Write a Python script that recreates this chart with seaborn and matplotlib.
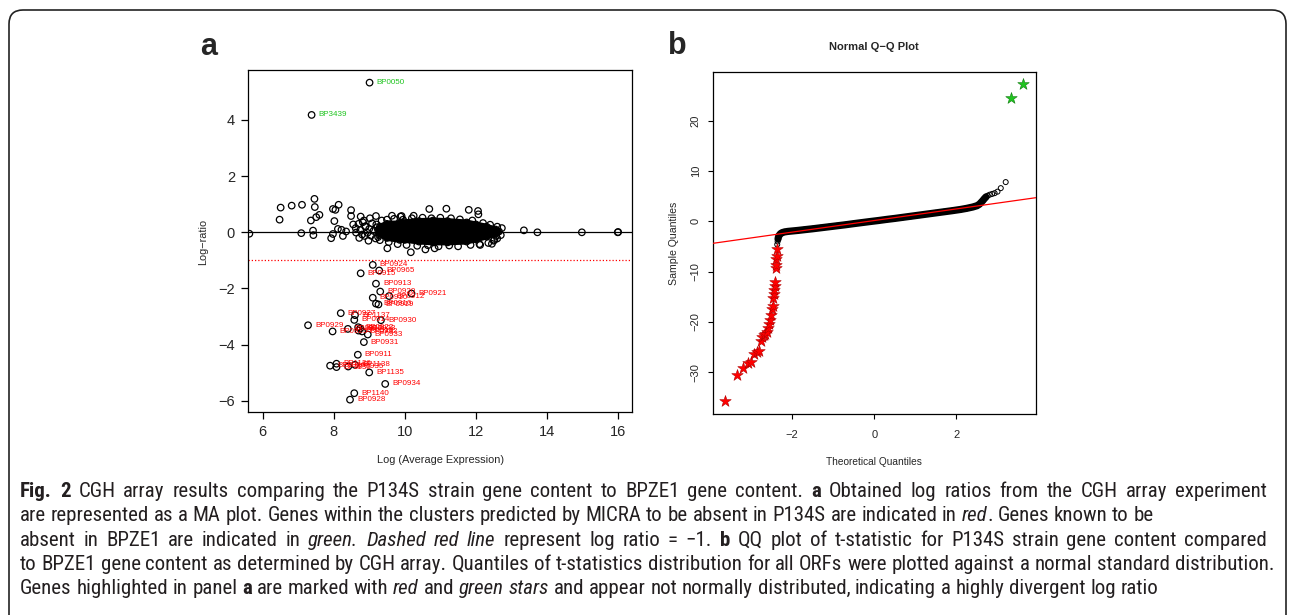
import re
import matplotlib
matplotlib.use("Agg")
import matplotlib.pyplot as plt
import numpy as np
import seaborn as sns
from matplotlib import font_manager as fm
from matplotlib.font_manager import FontProperties
from matplotlib.patches import FancyBboxPatch, Polygon
from matplotlib.transforms import IdentityTransform

# ---------------- data: panel a (MA plot) ----------------
# dense core of the cloud, outline of point centres
core_x = [9.25, 9.30, 9.50, 9.86, 10.0, 10.4, 10.8, 11.2, 11.74, 12.0, 12.3, 12.55, 12.65,
          12.55, 12.3, 12.0, 11.74, 11.2, 10.8, 10.4, 10.0, 9.86, 9.50, 9.30]
core_y = [0.08, 0.20, 0.30, 0.32, 0.36, 0.40, 0.42, 0.40, 0.35, 0.28, 0.20, 0.10, 0.03,
          -0.05, -0.15, -0.25, -0.33, -0.36, -0.36, -0.33, -0.27, -0.27, -0.20, -0.05]

# single genes around the core and the scattered ones
ma_x = [5.63, 6.51, 6.48, 6.82, 7.11, 7.09, 7.46, 7.47, 7.36, 7.51, 7.60, 7.42, 7.43,
        7.98, 8.05, 8.14, 8.02, 7.93, 7.98, 8.12, 8.22, 8.35, 8.26, 8.49, 8.49, 8.63,
        8.76, 8.82, 8.89, 8.87, 9.02, 9.19, 9.25, 9.51, 9.64, 9.88,
        10.69, 11.17, 11.80, 12.06, 12.07, 9.91, 10.25, 10.17, 10.58, 10.84,
        12.12, 12.45, 12.52, 12.57, 12.73, 13.35, 13.73, 14.98, 15.99, 16.0,
        9.20, 9.35, 9.50, 9.70, 9.95, 10.2, 10.5, 10.75, 11.0, 11.3, 11.55, 11.9,
        12.2, 12.4, 12.6, 9.30, 9.55, 9.80, 10.05, 10.35, 10.65, 10.95, 11.25, 11.5,
        11.85, 12.1, 12.35, 12.5, 12.6, 12.7,
        8.55, 8.62, 8.70, 8.75, 8.80, 8.85, 8.90, 8.95, 9.00, 9.05, 9.08, 9.12, 9.18,
        9.22, 9.28, 8.72, 8.98]
ma_y = [-0.05, 0.88, 0.45, 0.95, 0.98, -0.03, 1.19, 0.90, 0.42, 0.54, 0.62, 0.06, -0.10,
        0.83, 0.80, 0.98, 0.40, -0.21, -0.06, 0.12, 0.09, 0.03, -0.13, 0.79, 0.58, -0.01,
        0.56, 0.36, 0.20, -0.13, 0.50, 0.58, -0.17, -0.57, 0.59, 0.56,
        0.83, 0.84, 0.80, 0.76, 0.64, 0.58, 0.59, -0.71, -0.61, -0.57,
        -0.45, -0.41, -0.27, -0.13, 0.15, 0.07, 0.00, 0.00, 0.00, 0.01,
        0.28, 0.42, 0.45, 0.48, 0.45, 0.50, 0.52, 0.50, 0.52, 0.50, 0.46, 0.42,
        0.33, 0.27, 0.20, -0.28, -0.35, -0.42, -0.45, -0.48, -0.46, -0.50, -0.47, -0.50,
        -0.45, -0.42, -0.38, -0.30, -0.22, -0.10,
        0.28, 0.15, 0.30, 0.08, -0.08, 0.42, 0.22, -0.02, 0.12, -0.12, 0.32, 0.05, -0.22,
        0.18, -0.10, -0.20, -0.30]

# genes predicted absent in P134S (red labels)
red_genes = ["BP0924", "BP0965", "BP0915", "BP0913", "BP0920", "BP0921", "BP0912", "BP0910",
             "BP0916", "BP0919", "BP0927", "BP1137", "BP0914", "BP0930", "BP0929", "BP0925",
             "BP0917", "BP0922", "BP0923", "BP0918", "BP0932", "BP0933", "BP0931", "BP0911",
             "BP0926", "BP1136", "BP1139", "BP0935", "BP1138", "BP1135", "BP0934", "BP1140",
             "BP0928"]
red_x = [9.10, 9.28, 8.76, 9.19, 9.31, 10.19, 9.56, 9.10, 9.19, 9.26, 8.20, 8.60, 8.58, 9.33,
         7.28, 7.97, 8.40, 8.69, 8.75, 8.70, 8.80, 8.96, 8.85, 8.68, 7.90, 8.08, 8.08, 8.41,
         8.60, 9.00, 9.45, 8.58, 8.46]
red_y = [-1.16, -1.36, -1.46, -1.83, -2.11, -2.18, -2.27, -2.33, -2.54, -2.57, -2.88, -2.95,
         -3.12, -3.13, -3.31, -3.53, -3.44, -3.38, -3.42, -3.50, -3.53, -3.64, -3.91, -4.36,
         -4.75, -4.68, -4.80, -4.78, -4.72, -4.99, -5.40, -5.73, -5.96]

# genes known to be absent in BPZE1 (green labels)
green_genes = ["BP0050", "BP3439"]
green_x = [9.01, 7.38]
green_y = [5.33, 4.18]

ma_xticks = [6, 8, 10, 12, 14, 16]
ma_yticks = [-6, -4, -2, 0, 2, 4]
cutoff = -1

# ---------------- data: panel b (normal Q-Q plot) ----------------
qq_x = [-2.36, -2.35, -2.34, -2.33, -2.31, -2.28, -2.24, -2.18, -2.10, -2.00, -1.85, -1.70,
        -1.50, -1.30, -1.10, -0.90, -0.70, -0.50, -0.30, -0.10, 0.10, 0.30, 0.50, 0.70,
        0.90, 1.10, 1.30, 1.50, 1.70, 1.90, 2.10, 2.25, 2.40, 2.50, 2.56, 2.60, 2.64, 2.68,
        2.72, 2.76, 2.81, 2.87, 2.93, 3.00, 3.08, 3.20]
qq_y = [-4.6, -4.0, -3.5, -3.1, -2.75, -2.45, -2.25, -2.10, -2.00, -1.92, -1.80, -1.66,
        -1.48, -1.28, -1.08, -0.88, -0.68, -0.46, -0.25, -0.04, 0.16, 0.38, 0.58, 0.80,
        1.02, 1.24, 1.46, 1.68, 1.90, 2.12, 2.36, 2.58, 2.85, 3.10, 3.40, 3.75, 4.10, 4.50,
        4.85, 5.10, 5.30, 5.45, 5.60, 5.90, 6.60, 7.80]
qq_red_x = [-3.63, -3.34, -3.19, -3.08, -2.99, -2.92, -2.86, -2.81, -2.76, -2.72, -2.68,
            -2.65, -2.62, -2.59, -2.56, -2.53, -2.51, -2.49, -2.47, -2.46, -2.44, -2.43,
            -2.42, -2.41, -2.40, -2.39, -2.38, -2.37, -2.36]
qq_red_y = [-35.7, -30.6, -29.2, -28.2, -28.0, -26.3, -26.0, -25.8, -23.8, -23.0, -22.6,
            -22.3, -22.0, -21.2, -20.4, -19.6, -18.6, -17.4, -16.8, -15.2, -14.4, -13.6,
            -12.8, -12.0, -9.2, -8.6, -7.4, -6.8, -5.5]
qq_green_x = [3.34, 3.63]
qq_green_y = [24.5, 27.2]
qq_intercept = 0.16
qq_slope = 1.154
qq_xticks = [-2, 0, 2]
qq_yticks = [-30, -20, -10, 0, 10, 20]

caption_lines = [
    [("Fig. 2", "b"), (" CGH array results comparing the P134S strain gene content to BPZE1 gene content. ", "n"),
     ("a", "b"), (" Obtained log ratios from the CGH array experiment", "n")],
    [("are represented as a MA plot. Genes within the clusters predicted by MICRA to be absent in P134S are indicated in ", "n"),
     ("red", "i"), (". Genes known to be", "n")],
    [("absent in BPZE1 are indicated in ", "n"), ("green. Dashed red line", "i"),
     (" represent log ratio = \u22121. ", "n"), ("b", "b"),
     (" QQ plot of t-statistic for P134S strain gene content compared", "n")],
    [("to BPZE1 gene content as determined by CGH array. Quantiles of t-statistics distribution for all ORFs were plotted against a normal standard distribution.", "n")],
    [("Genes highlighted in panel ", "n"), ("a", "b"), (" are marked with ", "n"), ("red", "i"),
     (" and ", "n"), ("green stars", "i"),
     (" and appear not normally distributed, indicating a highly divergent log ratio", "n")],
]
caption_justify = [True, False, True, False, False]

# ---------------- fonts ----------------
sns.set_theme(style="ticks")
names = {f.name for f in fm.fontManager.ttflist}
plot_font = "Liberation Sans" if "Liberation Sans" in names else "DejaVu Sans"
cap_font = next((f for f in ["Liberation Sans Narrow", "Roboto Condensed", "Open Sans Condensed"]
                 if f in names), plot_font)
plt.rcParams["font.family"] = [plot_font, "DejaVu Sans"]
plt.rcParams["axes.unicode_minus"] = True

W, H = 1290, 615
fig = plt.figure(figsize=(W / 100, H / 100), dpi=100)
fig.patch.set_facecolor("white")


def px_axes(l, t, r, b):
    return fig.add_axes([l / W, 1 - b / H, (r - l) / W, (b - t) / H])


axA = px_axes(248.3, 70, 632, 412.3)
axB = px_axes(712.7, 71.7, 1035.7, 414.3)
for ax in (axA, axB):
    ax.set_facecolor("white")
    ax.grid(False)
    for sp in ax.spines.values():
        sp.set_visible(True)
        sp.set_color("black")
        sp.set_linewidth(0.9)

# ---------------- panel a ----------------
hollow = dict(marker="o", facecolor="none", edgecolor="black", legend=False)
axA.add_patch(Polygon(np.column_stack([core_x, core_y]), closed=True, fc="black",
                      ec="black", lw=4.3, joinstyle="round", zorder=2))
sns.scatterplot(x=core_x, y=core_y, s=22, linewidth=0.9, ax=axA, zorder=3, **hollow)
sns.scatterplot(x=ma_x, y=ma_y, s=22, linewidth=0.9, ax=axA, zorder=3, **hollow)
sns.scatterplot(x=red_x, y=red_y, s=22, linewidth=0.9, ax=axA, zorder=3, **hollow)
sns.scatterplot(x=green_x, y=green_y, s=22, linewidth=0.9, ax=axA, zorder=3, **hollow)
axA.axhline(0, color="black", lw=0.9, zorder=2.5)
axA.axhline(cutoff, color="red", lw=0.9, ls=(0, (1, 1.6)), zorder=2.5)
for gx, gy, g in zip(red_x, red_y, red_genes):
    axA.annotate(g, (gx, gy), xytext=(5, 0), textcoords="offset points", fontsize=5.8,
                 color="red", ha="left", va="center", zorder=4)
for gx, gy, g in zip(green_x, green_y, green_genes):
    axA.annotate(g, (gx, gy), xytext=(5, 0), textcoords="offset points", fontsize=5.8,
                 color="#1ec41e", ha="left", va="center", zorder=4)

axA.set_xlim(5.6, 16.39)
axA.set_ylim(-6.41, 5.78)
axA.set_xticks(ma_xticks)
axA.set_yticks(ma_yticks)
axA.tick_params(direction="out", length=5, width=0.9, labelsize=10.5, color="black",
                top=False, right=False)
axA.tick_params(axis="x", pad=4.5)
axA.tick_params(axis="y", pad=4.5)
axA.set_xlabel("Log (Average Expression)", fontsize=7.9, va="baseline")
axA.xaxis.set_label_coords(0.5, (412.3 - 463) / 342.3)
axA.set_ylabel("Log\u2212ratio", fontsize=7.8, va="center")
axA.yaxis.set_label_coords((202.8 - 248.3) / 383.7, 0.498)

# ---------------- panel b ----------------
sns.lineplot(x=qq_x[2:39], y=qq_y[2:39], color="black", lw=5.2, sort=False,
             estimator=None, ax=axB, zorder=2)
sns.scatterplot(x=qq_x, y=qq_y, s=13, linewidth=0.7, ax=axB, zorder=3, **hollow)
sns.scatterplot(x=qq_red_x, y=qq_red_y, marker="*", s=75, color="red",
                edgecolor="#b00000", linewidth=0.4, ax=axB, zorder=4, legend=False)
sns.scatterplot(x=qq_green_x, y=qq_green_y, marker="*", s=75, color="#1fc41f",
                edgecolor="#0d7a0d", linewidth=0.4, ax=axB, zorder=4, legend=False)
axB.axline((0, qq_intercept), slope=qq_slope, color="red", lw=0.9, zorder=3.5)

axB.set_xlim(-3.93, 3.93)
axB.set_ylim(-38.35, 29.74)
axB.set_xticks(qq_xticks)
axB.set_yticks(qq_yticks)
axB.tick_params(direction="out", length=3.6, width=0.8, labelsize=8.0, color="black",
                top=False, right=False)
axB.tick_params(axis="x", pad=7.5)
axB.tick_params(axis="y", pad=5.0, labelrotation=90)
for lab in axB.get_yticklabels():
    lab.set_va("center")
    lab.set_ha("right")
axB.set_title("Normal Q\u2212Q Plot", fontsize=8.0, fontweight="bold",
              y=(414.3 - 49.5) / 342.6, pad=0)
axB.set_xlabel("Theoretical Quantiles", fontsize=7.3, va="baseline")
axB.xaxis.set_label_coords(0.5, (414.3 - 465) / 342.6)
axB.set_ylabel("Sample Quantiles", fontsize=7.6, va="center")
axB.yaxis.set_label_coords((674.2 - 712.7) / 323, 0.499)

# panel letters
fig.text(208.3 / W, 1 - 55 / H, "a", fontsize=22, fontweight="bold", ha="center", va="baseline")
fig.text(677.5 / W, 1 - 54 / H, "b", fontsize=22, fontweight="bold", ha="center", va="baseline")

# rounded frame around figure + caption
fig.add_artist(FancyBboxPatch((9, -40), 1277, 605 + 40, boxstyle="round,pad=0,rounding_size=14",
                              transform=IdentityTransform(), fill=False, ec="#222222", lw=1.2))

# ---------------- caption ----------------
renderer = fig.canvas.get_renderer()


def props(style, size):
    return FontProperties(family=cap_font, size=size,
                          weight="bold" if style == "b" else "normal",
                          style="italic" if style == "i" else "normal")


def run_width(s, style, size):
    fp = props(style, size)
    w1, _, _ = renderer.get_text_width_height_descent(s + "|", fp, ismath=False)
    w2, _, _ = renderer.get_text_width_height_descent("|", fp, ismath=False)
    return w1 - w2


base = 10.0
nat = sum(run_width(s, st, base) for s, st in caption_lines[3])
cap_size = base * (1268 - 20) / nat
left, right = 20.0, 1267.0

for i, (line, just) in enumerate(zip(caption_lines, caption_justify)):
    y = 497.0 + 24.25 * i
    natural = sum(run_width(s, st, cap_size) for s, st in line)
    n_sp = sum(s.count(" ") for s, st in line)
    extra = (right - left - natural) / n_sp if (just and n_sp) else 0.0
    x = left
    for s, st in line:
        sp_w = run_width(" ", st, cap_size)
        for tok in re.split("( )", s):
            if tok == "":
                continue
            if tok == " ":
                x += sp_w + extra
                continue
            fig.text(x / W, 1 - y / H, tok, fontproperties=props(st, cap_size),
                     color="#231f20", ha="left", va="baseline")
            x += run_width(tok, st, cap_size)

fig.savefig("out.png", dpi=100, facecolor="white")
